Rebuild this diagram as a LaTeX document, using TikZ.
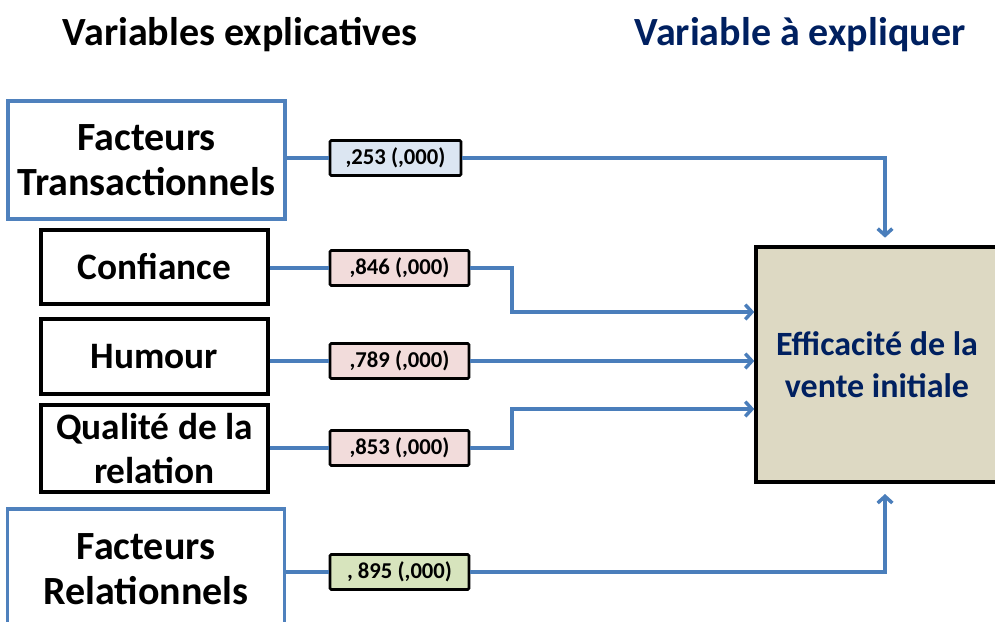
\documentclass[tikz,border=0pt]{standalone}
\usepackage{fontspec}
\setmainfont{Carlito}
\usetikzlibrary{positioning,arrows.meta,calc}
\definecolor{lineblue}{HTML}{4A7EBB}
\definecolor{boxblue}{HTML}{4F81BD}
\definecolor{navy}{HTML}{002060}
\definecolor{coefblue}{HTML}{DCE6F2}
\definecolor{coefpink}{HTML}{F2DCDB}
\definecolor{coefgreen}{HTML}{D7E4BD}
\definecolor{targetfill}{HTML}{DDD9C3}

\begin{document}
\begin{tikzpicture}[
  x=0.75pt, y=-0.75pt,
  >={Straight Barb[length=5pt,width=11pt]},
  title/.style={font=\fontsize{30}{36}\selectfont\bfseries},
  factbox/.style={draw=boxblue, line width=2.6pt, fill=white, minimum width=207.75pt, minimum height=88.5pt, align=center, font=\fontsize{30}{34}\selectfont\bfseries},
  varbox/.style={draw=black, line width=2.6pt, fill=white, minimum width=170.25pt, align=center, inner sep=0pt, font=\fontsize{28}{33}\selectfont\bfseries},
  coefbox/.style={draw=black, line width=2pt, rounded corners=1pt, minimum height=26.25pt, inner sep=0pt, font=\fontsize{17}{20}\selectfont\bfseries},
  link/.style={draw=lineblue, line width=2.6pt},
  arr/.style={link, ->}
]
  \useasboundingbox (0,0) rectangle (995,621);

  % titres
  \node[title] (tx) at (240,35) {Variables explicatives};
  \node[title, text=navy] (ty) at (800,35) {Variable à expliquer};

  % variables
  \node[factbox] (ft) at (146.5,160) {Facteurs\\Transactionnels};
  \node[varbox, minimum height=55.5pt] (conf) at (154.5,267) {Confiance};
  \node[varbox, minimum height=56.25pt] (hum) at (154.5,356.5) {Humour};
  \node[varbox, minimum height=65.25pt] (qual) at (154.5,448.5) {Qualité de la\\relation};
  \node[factbox, minimum height=90pt] (fr) at (146,569) {Facteurs\\Relationnels};

  % variable a expliquer
  \node[draw=black, line width=2.6pt, fill=targetfill, minimum width=181.5pt, minimum height=176.25pt, align=center, text=navy, font=\fontsize{25.5}{32}\selectfont\bfseries] (eff) at (877,364.5) {Efficacité de la\\vente initiale};

  % coefficients
  \node[coefbox, fill=coefblue, minimum width=98.25pt] (c1) at (395.5,158) {,253 (,000)};
  \node[coefbox, fill=coefpink, minimum width=104.25pt] (c2) at (399.5,268) {,846 (,000)};
  \node[coefbox, fill=coefpink, minimum width=104.25pt] (c3) at (399.5,361) {,789 (,000)};
  \node[coefbox, fill=coefpink, minimum width=104.25pt] (c4) at (399.5,448) {,853 (,000)};
  \node[coefbox, fill=coefgreen, minimum width=104.25pt] (c5) at (399.5,572) {, 895 (,000)};

  % points de passage
  \coordinate (k1) at (885,247);
  \coordinate (k2) at (512,312);
  \coordinate (k4) at (512,409);
  \coordinate (k5) at (885,482);

  % liaisons
  \foreach \v/\c in {ft/c1,conf/c2,hum/c3,qual/c4,fr/c5}
    \draw[link] (\c.west -| \v.east) -- (\c.west);
  \draw[arr, shorten >=7pt] (c1.east) -| (k1);
  \draw[arr] (c2.east) -| (k2) -- (k2 -| eff.west);
  \draw[arr] (c3.east) -- (c3.east -| eff.west);
  \draw[arr] (c4.east) -| (k4) -- (k4 -| eff.west);
  \draw[arr, shorten >=9pt] (c5.east) -| (k5);
\end{tikzpicture}
\end{document}
